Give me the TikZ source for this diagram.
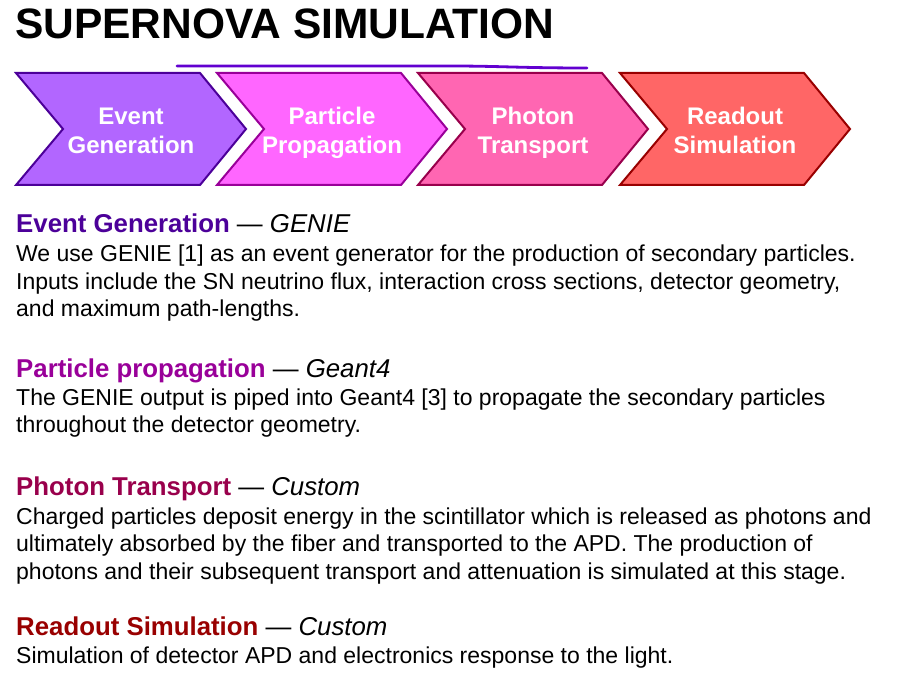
\documentclass[tikz,border=0pt]{standalone}
\usepackage{fontspec}
\setmainfont{Liberation Sans}
\begin{document}
\begin{tikzpicture}[x=1pt,y=-1pt,
  chev/.style={line width=2pt,line join=miter},
  chevtext/.style={text=white,font=\fontsize{24}{29}\selectfont\bfseries,anchor=base,inner sep=0pt},
  body/.style={anchor=base west,inner sep=0pt,font=\fontsize{23}{28}\selectfont},
  head/.style={anchor=base west,inner sep=0pt,font=\fontsize{25.8}{30}\selectfont},
  title/.style={anchor=base west,inner sep=0pt,font=\fontsize{42.5}{48}\selectfont\bfseries}
]
\definecolor{cA}{HTML}{B266FF}\definecolor{bA}{HTML}{4C0099}
\definecolor{cB}{HTML}{FF66FF}\definecolor{bB}{HTML}{990099}
\definecolor{cC}{HTML}{FF66B2}\definecolor{bC}{HTML}{99004C}
\definecolor{cD}{HTML}{FF6666}\definecolor{bD}{HTML}{990000}
\definecolor{lineP}{HTML}{6200D0}
\useasboundingbox (0,0) rectangle (899,692);
\fill[white] (0,0) rectangle (899,692);

\node[title] (ttl) at (15,38.5) {SUPERNOVA SIMULATION};

\draw[lineP,line width=2.8pt,line cap=round] (177,66) -- (450,66) .. controls (500,66) and (520,68) .. (587,68);

\foreach \x/\f/\b/\n/\ta/\tb in {16/cA/bA/evg/Event/Generation,217/cB/bB/ppg/Particle/Propagation,418/cC/bC/pht/Photon/Transport,620/cD/bD/rds/Readout/Simulation}{
  \filldraw[chev,fill=\f,draw=\b] (\x,73) -- ++(184,0) -- ++(46,56) -- ++(-46,56) -- ++(-184,0) -- ++(47,-56) -- cycle;
  \node[chevtext] (\n) at (\x+115,125) {\ta};
  \node[chevtext] (\n2) at (\x+115,154) {\tb};
}

\node[head] (h1) at (16,233) {\textcolor{bA}{\bfseries Event Generation} — \itshape GENIE};
\node[body] (b1a) at (16,262) {We use GENIE [1] as an event generator for the production of secondary particles.};
\node[body] (b1b) at (16,290) {Inputs include the SN neutrino flux, interaction cross sections, detector geometry,};
\node[body] (b1c) at (16,317) {and maximum path-lengths.};

\node[head] (h2) at (16,377) {\textcolor{bB}{\bfseries Particle propagation} — \itshape Geant4};
\node[body] (b2a) at (16,405) {The GENIE output is piped into Geant4 [3] to propagate the secondary particles};
\node[body] (b2b) at (16,432) {throughout the detector geometry.};

\node[head] (h3) at (16,495) {\textcolor{bC}{\bfseries Photon Transport} — \itshape Custom};
\node[body] (b3a) at (16,524) {Charged particles deposit energy in the scintillator which is released as photons and};
\node[body] (b3b) at (16,551) {ultimately absorbed by the fiber and transported to the APD. The production of};
\node[body] (b3c) at (16,579) {photons and their subsequent transport and attenuation is simulated at this stage.};

\node[head] (h4) at (16,635) {\textcolor{bD}{\bfseries Readout Simulation} — \itshape Custom};
\node[body] (b4a) at (16,663) {Simulation of detector APD and electronics response to the light.};
\end{tikzpicture}
\end{document}
